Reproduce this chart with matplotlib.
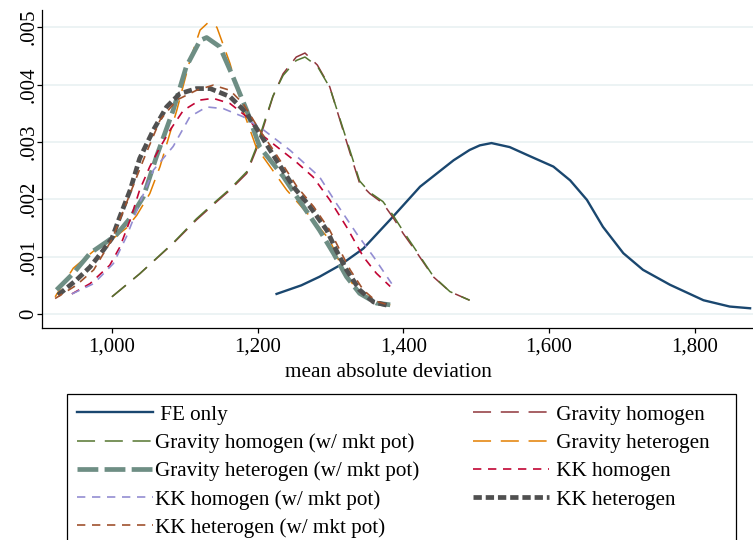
import matplotlib
matplotlib.use("Agg")
import matplotlib.pyplot as plt
from matplotlib.patches import Rectangle

plt.rcParams['font.family'] = ['Liberation Serif', 'DejaVu Serif']
plt.rcParams['lines.scale_dashes'] = False

# curves (mean absolute deviation, density)
fe_x = [1226, 1260, 1285, 1313, 1345, 1386, 1423, 1446, 1469, 1491, 1505, 1521, 1546,
        1574, 1606, 1629, 1652, 1674, 1702, 1729, 1766, 1812, 1848, 1876]
fe_y = [.00035, .0005, .00065, .00085, .00114, .0017, .00222, .00245, .00268, .00286,
        .00294, .00298, .00291, .00275, .00257, .00233, .00199, .00152, .00106, .00077,
        .00051, .00024, .00013, .0001]

gh_x = [1000, 1038, 1084, 1116, 1144, 1162, 1185, 1198, 1208, 1221, 1235, 1253, 1265,
        1282, 1299, 1313, 1327, 1340, 1354, 1372, 1386, 1400, 1419, 1441, 1464, 1491]
gh_y = [.0003, .0007, .00123, .00164, .00196, .00216, .00245, .00286, .00326, .00379,
        .00419, .00448, .00455, .00434, .00396, .00338, .0028, .00228, .0021, .00193,
        .00168, .0014, .00106, .00065, .00039, .00024]

ghm_x = [1000, 1038, 1084, 1116, 1144, 1162, 1185, 1198, 1208, 1221, 1235, 1253, 1265,
         1282, 1299, 1313, 1327, 1340, 1354, 1372, 1386, 1400, 1419, 1441, 1464, 1491]
ghm_y = [.0003, .0007, .00124, .00166, .00198, .00218, .00248, .0029, .0033, .0038,
         .00416, .00442, .00448, .00432, .00395, .0034, .00284, .00232, .00212, .00196,
         .00172, .00144, .00108, .00066, .00039, .00024]

ght_x = [922, 947, 975, 1000, 1020, 1034, 1052, 1066, 1089, 1107, 1121, 1132, 1144,
         1162, 1180, 1198, 1240, 1272, 1299, 1317, 1336, 1359, 1382]
ght_y = [.0003, .0008, .0011, .0013, .0015, .00172, .0021, .00257, .00355, .00442,
         .00495, .00508, .005, .00437, .00355, .00291, .00216, .0017, .00129, .00077,
         .00042, .00019, .00016]

ghtm_x = [924, 947, 970, 993, 1006, 1025, 1043, 1061, 1084, 1102, 1121, 1130, 1148,
          1166, 1185, 1203, 1235, 1263, 1285, 1304, 1322, 1340, 1363, 1382]
ghtm_y = [.00042, .00071, .00106, .00126, .00138, .00167, .00204, .00274, .00355,
          .00431, .00477, .00482, .00466, .00414, .00355, .00291, .0024, .00187,
          .00146, .00106, .00065, .00036, .00019, .00016]

kh_x = [945, 970, 997, 1011, 1025, 1038, 1052, 1064, 1080, 1098, 1121, 1139, 1162,
        1185, 1203, 1226, 1253, 1276, 1299, 1322, 1345, 1363, 1382]
kh_y = [.00035, .00053, .00085, .00117, .00164, .00216, .00257, .00286, .00321,
        .00355, .00373, .00376, .00367, .00344, .00315, .00292, .00265, .00239,
        .00199, .00152, .001, .00071, .00048]

khm_x = [945, 975, 1002, 1020, 1038, 1057, 1084, 1107, 1130, 1153, 1180, 1208, 1244,
         1285, 1308, 1336, 1359, 1384]
khm_y = [.00035, .00053, .00088, .00135, .00193, .00251, .00292, .00344, .00361,
         .00358, .00344, .00321, .00286, .00239, .00193, .0014, .001, .00053]

kt_x = [926, 951, 970, 988, 1000, 1011, 1025, 1038, 1057, 1075, 1093, 1116, 1135,
        1162, 1185, 1203, 1217, 1249, 1272, 1295, 1308, 1322, 1340, 1359, 1382]
kt_y = [.00033, .00059, .00082, .00111, .00132, .0017, .00216, .00271, .00321, .00361,
        .00384, .00393, .00393, .00379, .0035, .00315, .00286, .00222, .00187, .00146,
        .00111, .00077, .00042, .00021, .00014]

ktm_x = [922, 951, 975, 1000, 1011, 1025, 1043, 1066, 1089, 1116, 1139, 1162, 1180,
         1203, 1221, 1254, 1277, 1299, 1313, 1327, 1345, 1363, 1382]
ktm_y = [.00027, .0005, .00077, .0013, .00165, .0021, .00268, .00338, .00373, .0039,
         .00399, .0039, .00367, .0032, .00287, .00222, .00187, .00146, .00111, .00077,
         .00042, .00022, .00015]

x_ticks = [1000, 1200, 1400, 1600, 1800]
x_tick_labels = ['1,000', '1,200', '1,400', '1,600', '1,800']
y_ticks = [0, .001, .002, .003, .004, .005]
y_tick_labels = ['0', '.001', '.002', '.003', '.004', '.005']

fig = plt.figure(figsize=(7.53, 5.40), dpi=100)
ax = fig.add_axes([42 / 753, 1 - 328 / 540, 1 - 42 / 753, 318 / 540])

long_d = (13, 7)
short_d = (6, 4.8)

fe, = ax.plot(fe_x, fe_y, color='#1a476f', lw=1.7, label=' FE only')
gh, = ax.plot(gh_x, gh_y, color='#90353b', lw=1.1, dashes=long_d, label=' Gravity homogen')
ghm, = ax.plot(ghm_x, ghm_y, color='#55752f', lw=1.1, dashes=long_d,
               label='Gravity homogen (w/ mkt pot)')
ght, = ax.plot(ght_x, ght_y, color='#e37e00', lw=1.1, dashes=long_d, label=' Gravity heterogen')
ghtm, = ax.plot(ghtm_x, ghtm_y, color='#6e8e84', lw=3.4, dashes=(15, 4.5),
                label='Gravity heterogen (w/ mkt pot)')
kh, = ax.plot(kh_x, kh_y, color='#c10534', lw=1.2, dashes=short_d, label=' KK homogen')
khm, = ax.plot(khm_x, khm_y, color='#938dd2', lw=1.2, dashes=short_d,
               label='KK homogen (w/ mkt pot)')
kt, = ax.plot(kt_x, kt_y, color='#505050', lw=3.4, dashes=(6, 2.8), label=' KK heterogen')
ktm, = ax.plot(ktm_x, ktm_y, color='#a0522d', lw=1.2, dashes=short_d,
               label='KK heterogen (w/ mkt pot)')

ax.set_xlim(904, 1880)
ax.set_ylim(-0.000244, 0.0053)
ax.set_xticks(x_ticks)
ax.set_xticklabels(x_tick_labels)
ax.set_yticks(y_ticks)
ax.set_yticklabels(y_tick_labels, rotation=90, va='center')
ax.tick_params(axis='both', labelsize=15, length=3.6, width=0.9, direction='out')
ax.tick_params(axis='x', pad=3.5)
ax.tick_params(axis='y', pad=-1)
ax.yaxis.grid(True, color='#eaf2f3', lw=1.3)
ax.set_axisbelow(True)
for s in ['top', 'right']:
    ax.spines[s].set_visible(False)
for s in ['left', 'bottom']:
    ax.spines[s].set_linewidth(0.9)
ax.set_xlabel('mean absolute deviation', fontsize=15.3)
ax.xaxis.set_label_coords(0.487, -0.11)

# Stata fills the legend row by row; matplotlib fills columns
handles = [fe, ghm, ghtm, khm, ktm, gh, ght, kh, kt]
leg = fig.legend(handles=handles, labels=[h.get_label() for h in handles],
                 loc='upper left', bbox_to_anchor=(67 / 753, 1 - 401 / 540, 652 / 753, 0.01),
                 mode='expand', ncol=2, fontsize=15.2, frameon=False,
                 handlelength=3.6, handletextpad=0.1,
                 labelspacing=0.4, borderpad=0.45, borderaxespad=0)

# legend frame, running off the bottom as in the reference
fig.patches.append(Rectangle((67 / 753, -0.02), (736 - 67) / 753, (540 - 394) / 540 + 0.02,
                             transform=fig.transFigure, fill=False,
                             edgecolor='black', lw=0.9))

fig.savefig('out.png', dpi=100)
